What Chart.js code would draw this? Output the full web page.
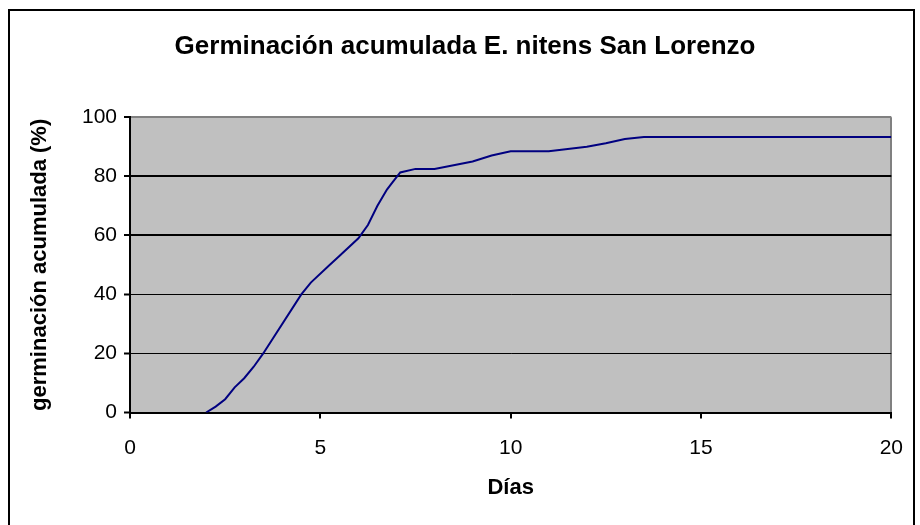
<!DOCTYPE html>
<html lang="es">
<head>
<meta charset="utf-8">
<title>Germinación acumulada E. nitens San Lorenzo</title>
<script src="https://cdn.jsdelivr.net/npm/chart.js@4/dist/chart.umd.min.js"></script>
<style>
    html, body { margin: 0; padding: 0; background: #fff; }
    #wrap { width: 920px; height: 525px; }
</style>
</head>
<body>
<div id="wrap"><canvas id="germChart" width="920" height="525"></canvas></div>
<script>
// Días desde la siembra y germinación acumulada (%)
const dias = [2, 2.25, 2.5, 2.75, 3, 3.25, 3.5, 4.5, 4.75, 5.25, 5.5, 6, 6.25, 6.5, 6.75, 6.9, 7.1, 7.5, 8, 9, 9.5, 10, 11, 12, 12.5, 13, 13.5, 20];
const germinacion = [0, 2, 4.5, 8.5, 11.6, 15.5, 20, 40, 44, 50, 53, 59, 63.5, 70, 75.5, 78, 81.3, 82.5, 82.5, 85, 87, 88.5, 88.5, 90, 91.2, 92.6, 93.3, 93.3];

const xTicks = [0, 5, 10, 15, 20];
const yTicks = [0, 20, 40, 60, 80, 100];

const FONT = 'Liberation Sans, Arial, sans-serif';

document.addEventListener('DOMContentLoaded', () => {
    const ctx = document.getElementById('germChart').getContext('2d');

    // fondo gris del área de trazado y marco exterior
    const frame = {
        id: 'frame',
        beforeDraw(chart) {
            const { ctx, chartArea: a } = chart;
            ctx.save();
            ctx.fillStyle = '#fff';
            ctx.fillRect(0, 0, chart.width, chart.height);
            ctx.fillStyle = '#C0C0C0';
            ctx.fillRect(a.left, a.top, a.right - a.left, a.bottom - a.top);
            ctx.strokeStyle = '#000';
            ctx.lineWidth = 2;
            ctx.strokeRect(9, 10, 905, 530);
            ctx.restore();
        }
    };

    new Chart(ctx, {
        type: 'line',
        data: {
            datasets: [{
                data: dias.map((d, i) => ({ x: d, y: germinacion[i] })),
                borderColor: '#000080',
                borderWidth: 2,
                pointRadius: 0,
                fill: false,
                tension: 0
            }]
        },
        options: {
            responsive: false,
            animation: false,
            layout: { padding: { left: 30, right: 20, top: 0, bottom: 0 } },
            plugins: {
                legend: { display: false },
                tooltip: { enabled: false },
                title: {
                    display: true,
                    text: 'Germinación acumulada E. nitens San Lorenzo',
                    color: '#000',
                    font: { family: FONT, size: 26, weight: 'bold', lineHeight: 1.2 },
                    padding: { top: 31, bottom: 55 }
                }
            },
            scales: {
                x: {
                    type: 'linear',
                    min: 0,
                    max: 20,
                    afterBuildTicks: axis => { axis.ticks = xTicks.map(v => ({ value: v })); },
                    afterFit: axis => { axis.height = 112.5; },
                    border: { display: true, color: '#000', width: 2 },
                    grid: {
                        drawOnChartArea: true,
                        drawTicks: true,
                        tickLength: 6,
                        tickColor: '#000',
                        tickWidth: 2,
                        color: c => (c.tick && c.tick.value === 20 ? '#808080' : 'rgba(0,0,0,0)'),
                        lineWidth: 2
                    },
                    ticks: {
                        color: '#000',
                        padding: 17,
                        maxRotation: 0,
                        font: { family: FONT, size: 21 }
                    },
                    title: {
                        display: true,
                        text: 'Días',
                        color: '#000',
                        font: { family: FONT, size: 22, weight: 'bold', lineHeight: 1.2 },
                        padding: { top: 0, bottom: 24 }
                    }
                },
                y: {
                    min: 0,
                    max: 100,
                    afterBuildTicks: axis => { axis.ticks = yTicks.map(v => ({ value: v })); },
                    afterFit: axis => { axis.width = 100; },
                    border: { display: true, color: '#000', width: 2 },
                    grid: {
                        drawTicks: true,
                        tickLength: 6,
                        tickColor: '#000',
                        tickWidth: 2,
                        color: c => (c.tick && c.tick.value === 100 ? '#808080' : '#000'),
                        lineWidth: c => (c.tick && c.tick.value >= 60 ? 2 : 1)
                    },
                    ticks: {
                        color: '#000',
                        padding: 7,
                        font: { family: FONT, size: 21 }
                    },
                    title: {
                        display: true,
                        text: 'germinación acumulada (%)',
                        color: '#000',
                        font: { family: FONT, size: 22, weight: 'bold', lineHeight: 1.2 },
                        padding: { top: -3, bottom: 0 }
                    }
                }
            }
        },
        plugins: [frame]
    });
});
</script>
</body>
</html>
